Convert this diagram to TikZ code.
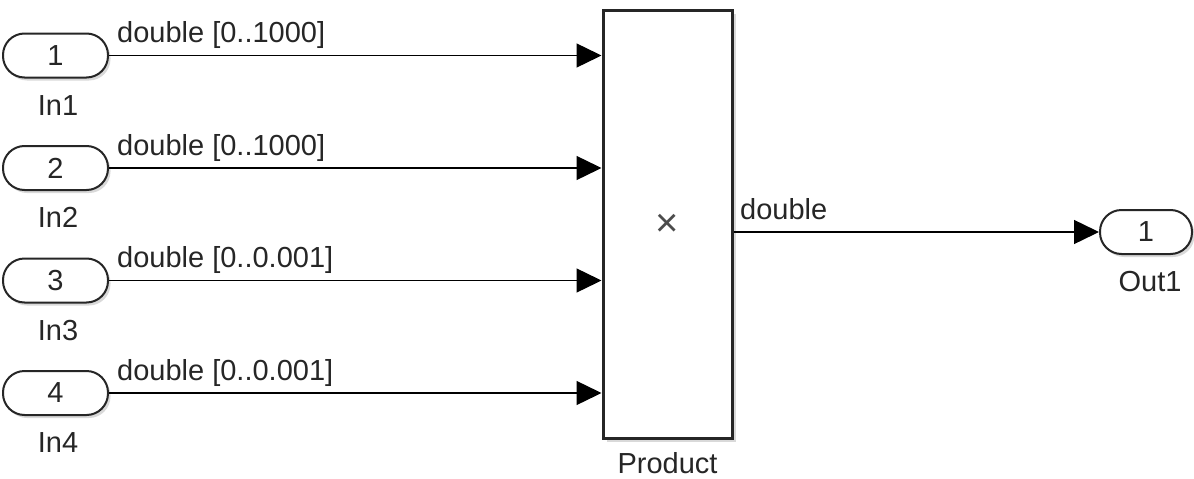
\documentclass[tikz,border=0pt]{standalone}
\usepackage{fontspec}
\setmainfont{Liberation Sans}
\usetikzlibrary{arrows.meta,shadows}
\definecolor{txt}{gray}{0.15}
\tikzset{
  port/.style={draw=black!85, line width=2pt, fill=white, rounded corners=21.5pt,
    minimum height=44pt, inner sep=0pt, text=txt,
    font=\fontsize{29}{32}\selectfont,
    drop shadow={shadow xshift=2.5pt, shadow yshift=-3pt, fill=black!25, opacity=0.6}},
  prodbox/.style={draw=black!85, line width=3pt, fill=white, minimum width=129pt,
    minimum height=428pt, inner sep=0pt,
    drop shadow={shadow xshift=3.5pt, shadow yshift=-3.5pt, fill=black!25, opacity=0.6}},
  lbl/.style={text=txt, inner sep=0pt, font=\fontsize{29}{32}\selectfont},
  sig/.style={draw=black, line width=1.4pt, -{Triangle[length=25pt,width=24pt]}},
}
\begin{document}
\begin{tikzpicture}[x=1pt,y=-1pt]
\useasboundingbox (0,0) rectangle (1194,479);
\node[prodbox] (prod) at (667.5,224) {};
\node[lbl, text=black!70, font=\fontsize{40}{44}\selectfont] (times) at (667,225) {×};
\node[lbl, anchor=base] (prodlbl) at (667.5,473) {Product};

\node[port, minimum width=105pt] (in1) at (55.5,55.5) {1};
\node[port, minimum width=105pt] (in2) at (55.5,168) {2};
\node[port, minimum width=105pt] (in3) at (55.5,280.5) {3};
\node[port, minimum width=105pt] (in4) at (55.5,393) {4};
\node[lbl, anchor=base] (n1) at (58,115) {In1};
\node[lbl, anchor=base] (n2) at (58,227.5) {In2};
\node[lbl, anchor=base] (n3) at (58,340) {In3};
\node[lbl, anchor=base] (n4) at (58,452.5) {In4};

\node[port, minimum width=92pt] (out1) at (1146,232) {1};
\node[lbl, anchor=base] (no) at (1150,291) {Out1};

\draw[sig] (in1.east) -- (in1 -| prod.west);
\draw[sig] (in2.east) -- (in2 -| prod.west);
\draw[sig] (in3.east) -- (in3 -| prod.west);
\draw[sig] (in4.east) -- (in4 -| prod.west);
\draw[sig] (prod.east |- out1) -- (out1.west);

\node[lbl, anchor=base west] (s1) at (117,42.5) {double [0..1000]};
\node[lbl, anchor=base west] (s2) at (117,155) {double [0..1000]};
\node[lbl, anchor=base west] (s3) at (117,267.5) {double [0..0.001]};
\node[lbl, anchor=base west] (s4) at (117,380) {double [0..0.001]};
\node[lbl, anchor=base west] (so) at (740,219) {double};
\end{tikzpicture}
\end{document}
